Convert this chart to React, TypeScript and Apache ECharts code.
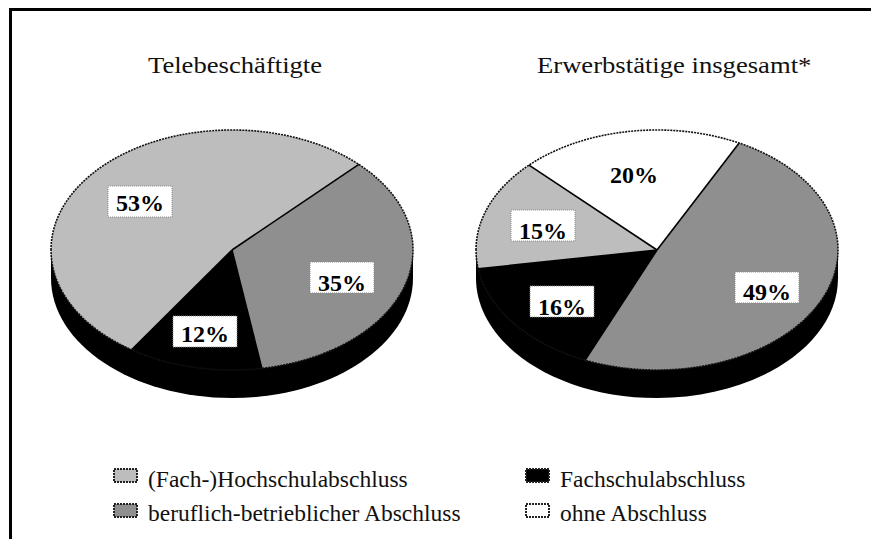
import React, { useEffect, useRef } from "react";
import * as echarts from "echarts";

const categories = ["(Fach-)Hochschulabschluss", "Fachschulabschluss", "beruflich-betrieblicher Abschluss", "ohne Abschluss"];
const pieTitles = ["Telebeschäftigte", "Erwerbstätige insgesamt*"];
const leftCats = [2, 1, 0];
const leftValues = [35, 12, 53];
const rightCats = [2, 1, 0, 3];
const rightValues = [49, 16, 15, 20];
const colors = ["#bdbdbd", "#000000", "#8f8f8f", "#ffffff"];

const FONT = '"Liberation Serif", "Times New Roman", serif';
const RX = 181, RY = 120, DEPTH = 28;
const PIES = [
  { cx: 232, cy: 250, start: 44.5, cats: leftCats, values: leftValues,
    labels: [[342, 291, 262], [205, 342, 316], [140, 211, 186]], box: [true, true, true] },
  { cx: 657, cy: 250, start: 27, cats: rightCats, values: rightValues,
    labels: [[767, 300, 272], [562, 315, 286], [543, 239, 210], [634, 183, 158]], box: [true, true, true, false] },
];

// zrender centres text on the "central" baseline, about 0.3375em above the alphabetic one
const textEl = (str: string, x: number, base: number, size: number, weight: string, fill: string, align: string, extra: any = {}) => ({
  type: "text", x, y: base - size * 0.3375, ...extra,
  style: { text: str, fontFamily: FONT, fontSize: size, fontWeight: weight, fill, align, verticalAlign: "middle" },
});

function pieSeries(p: (typeof PIES)[number], idx: number) {
  const total = p.values.reduce((a, b) => a + b, 0);
  const K = RY / RX;
  const toRad = (deg: number) => ((deg - 90) * Math.PI) / 180;
  const depthSeries = {
    type: "custom", coordinateSystem: "none", silent: true, z: 1, data: [0],
    renderItem: () => ({
      type: "group",
      children: [
        { type: "rect", shape: { x: p.cx - RX, y: p.cy, width: RX * 2, height: DEPTH }, style: { fill: "#000" } },
        { type: "ellipse", shape: { cx: p.cx, cy: p.cy + DEPTH, rx: RX, ry: RY }, style: { fill: "#000" } },
      ],
    }),
  };
  const sliceSeries = {
    type: "custom", coordinateSystem: "none", silent: true, z: 2,
    data: p.values.map((v, i) => [v, i]),
    renderItem: (_: any, api: any) => {
      const i = api.value(1) as number;
      const before = p.values.slice(0, i).reduce((a, b) => a + b, 0);
      const a0 = p.start + (before / total) * 360;
      const a1 = a0 + (api.value(0) / total) * 360;
      return {
        type: "sector", x: p.cx, y: p.cy, scaleY: K,
        shape: { cx: 0, cy: 0, r: RX, r0: 0, startAngle: toRad(a0), endAngle: toRad(a1), clockwise: true },
        style: { fill: colors[p.cats[i]] },
      };
    },
  };
  const lineSeries = {
    type: "custom", coordinateSystem: "none", silent: true, z: 3,
    data: p.values.map((v, i) => [v, i]),
    renderItem: (_: any, api: any) => {
      const i = api.value(1) as number;
      const before = p.values.slice(0, i).reduce((a, b) => a + b, 0);
      const a0 = toRad(p.start + (before / total) * 360);
      return {
        type: "line",
        shape: { x1: p.cx, y1: p.cy, x2: p.cx + RX * Math.cos(a0), y2: p.cy + RY * Math.sin(a0) },
        style: { stroke: "#000", lineWidth: 1.6 },
      };
    },
  };
  const rimSeries = {
    type: "custom", coordinateSystem: "none", silent: true, z: 4, data: [0],
    renderItem: () => ({
      type: "ellipse",
      shape: { cx: p.cx, cy: p.cy, rx: RX, ry: RY },
      style: { fill: "none", stroke: "#111", lineWidth: 1.6, lineDash: [2, 1] },
    }),
  };
  const labelSeries = {
    type: "custom", coordinateSystem: "none", silent: true, z: 5,
    data: p.values.map((v, i) => [v, i]),
    renderItem: (_: any, api: any) => {
      const i = api.value(1) as number;
      const [x, base, top] = p.labels[i];
      const children: any[] = [];
      if (p.box[i]) {
        children.push({
          type: "rect", shape: { x: x - 32, y: top, width: 64, height: 31 },
          style: { fill: "#fff", stroke: "#8a8a8a", lineWidth: 1, lineDash: [1, 1] },
        });
      }
      children.push(textEl(`${api.value(0)}%`, x, base, 24, "bold", "#000", "center"));
      return { type: "group", children };
    },
  };
  return [depthSeries, sliceSeries, lineSeries, rimSeries, labelSeries].map((s) => ({ ...s, name: pieTitles[idx] }));
}

const LEGEND_POS = [
  { sx: 114, sy: 469, tx: 148, base: 487 },
  { sx: 526, sy: 469, tx: 560, base: 487 },
  { sx: 114, sy: 504, tx: 148, base: 521 },
  { sx: 526, sy: 504, tx: 560, base: 521 },
];

export default function App() {
  const ref = useRef<HTMLDivElement>(null);
  useEffect(() => {
    const chart = echarts.init(ref.current!, undefined, { renderer: "svg" });
    const graphic: any[] = [
      { type: "polyline", silent: true, shape: { points: [[10.5, 539], [10.5, 9.5], [871, 9.5]] },
        style: { fill: "none", stroke: "#000", lineWidth: 3 } },
      textEl(pieTitles[0], 148, 73, 24, "normal", "#111", "left", { scaleX: 1.11 }),
      textEl(pieTitles[1], 537, 73, 24, "normal", "#111", "left", { scaleX: 1.11 }),
    ];
    categories.forEach((c, i) => {
      const l = LEGEND_POS[i];
      graphic.push({
        type: "rect", shape: { x: l.sx, y: l.sy, width: 23, height: 13 },
        style: { fill: colors[i], stroke: "#222", lineWidth: 2, lineDash: [2, 1] },
      });
      graphic.push(textEl(c, l.tx, l.base, 23.5, "normal", "#111", "left"));
    });
    chart.setOption({
      animation: false,
      backgroundColor: "#fff",
      graphic,
      series: PIES.flatMap((p, i) => pieSeries(p, i)),
    });
    return () => chart.dispose();
  }, []);
  return <div ref={ref} style={{ position: "absolute", left: 0, top: 0, width: 871, height: 539 }} />;
}
